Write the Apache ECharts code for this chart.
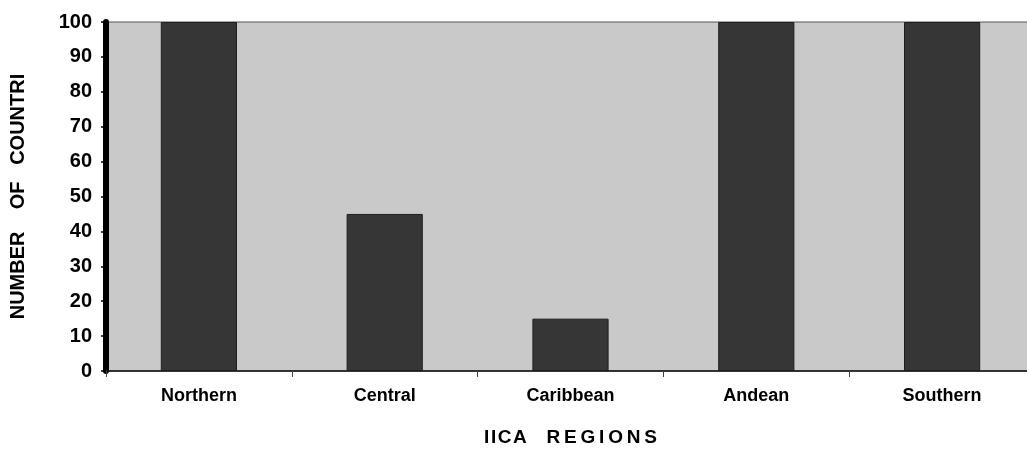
<!DOCTYPE html>
<html>
<head>
<meta charset="utf-8">
<script src="https://cdn.jsdelivr.net/npm/echarts@6/dist/echarts.min.js"></script>
<style>
  html, body { margin: 0; padding: 0; background: #fff; }
  #chart { width: 1027px; height: 453px; }
</style>
</head>
<body>
<div id="chart"></div>
<script>
// Regions and the share of countries in each
const regions = ['Northern', 'Central', 'Caribbean', 'Andean', 'Southern'];
const countryShare = [100, 45, 15, 100, 100];
const yTicks = { min: 0, max: 100, interval: 10 };

const FONT = '"Liberation Sans", Arial, sans-serif';
const HAIR = '\u200A';
const THIN = '\u2009';

const chart = echarts.init(document.getElementById('chart'), null, { renderer: 'canvas' });

chart.setOption({
  animation: false,
  backgroundColor: '#ffffff',
  grid: {
    left: 106,
    top: 22,
    width: 929,
    height: 349,
    outerBoundsMode: 'none',
    containLabel: false,
    show: true,
    backgroundColor: '#c9c9c9',
    borderColor: '#555555',
    borderWidth: 1
  },
  xAxis: {
    type: 'category',
    data: regions,
    name: ['I', 'I', 'C', 'A'].join(HAIR) + '   ' + THIN + ['R', 'E', 'G', 'I', 'O', 'N', 'S'].join(THIN),
    nameLocation: 'middle',
    nameGap: 57,
    nameTextStyle: { fontFamily: FONT, fontWeight: 'bold', fontSize: 19, color: '#000' },
    axisLine: { show: true, lineStyle: { color: '#111', width: 1.5 } },
    axisTick: { show: true, length: 6, lineStyle: { color: '#444' } },
    axisLabel: { fontFamily: FONT, fontWeight: 'bold', fontSize: 18, color: '#000', margin: 16 },
    splitLine: { show: false }
  },
  yAxis: {
    type: 'value',
    min: yTicks.min,
    max: yTicks.max,
    interval: yTicks.interval,
    name: 'NUMBER    OF   COUNTRI',
    nameLocation: 'middle',
    nameRotate: 90,
    nameGap: 78,
    nameTextStyle: { fontFamily: FONT, fontWeight: 'bold', fontSize: 20, color: '#000' },
    axisLine: { show: true, lineStyle: { color: '#000', width: 6 } },
    axisTick: { show: true, length: 5, lineStyle: { color: '#000', width: 1.5 } },
    axisLabel: { fontFamily: FONT, fontWeight: 'bold', fontSize: 20, color: '#000', margin: 14 },
    splitLine: { show: false }
  },
  series: [{
    type: 'bar',
    data: countryShare,
    barWidth: '41%',
    itemStyle: { color: '#363636', borderColor: '#1e1e1e', borderWidth: 1 }
  }]
});
</script>
</body>
</html>
